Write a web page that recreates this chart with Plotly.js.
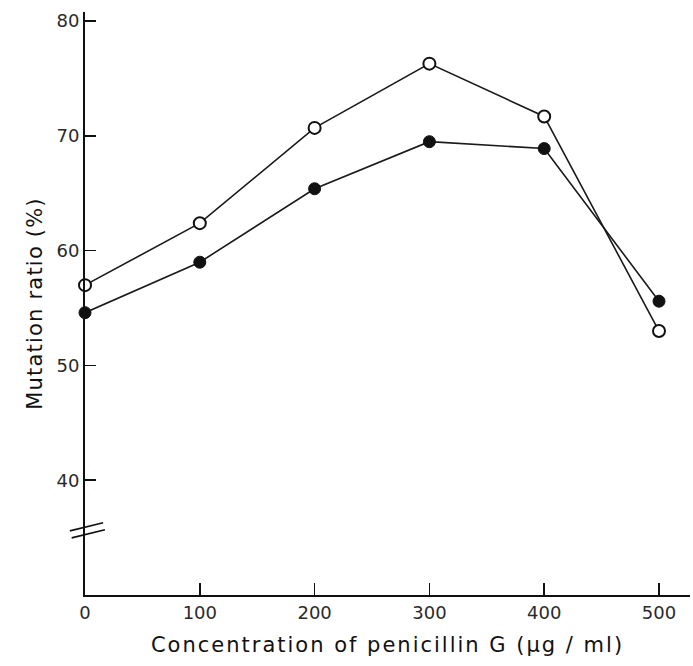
<!DOCTYPE html>
<html>
<head>
<meta charset="utf-8">
<script src="https://cdn.plot.ly/plotly-3.0.1.min.js"></script>
<style>
html,body{margin:0;padding:0;background:#fff;}
#chart{width:693px;height:666px;}
#chart text.xtitle {letter-spacing:2px !important;}
#chart text.ytitle {letter-spacing:1.2px !important;}
</style>
</head>
<body>
<div id="chart"></div>
<script>
const concentration = [0, 100, 200, 300, 400, 500];
const openSeries = [57.0, 62.4, 70.7, 76.3, 71.7, 53.0];
const filledSeries = [54.6, 59.0, 65.4, 69.5, 68.9, 55.6];
const xTickVals = [0, 100, 200, 300, 400, 500];
const xTickText = ['0', '100', '200', '300', '400', '500'];
const yTickVals = [40, 50, 60, 70, 80];
const yTickText = ['40', '50', '60', '70', '80'];

const lineColor = '#1a1a1a';
const traces = [
  {
    x: concentration, y: filledSeries, mode: 'lines+markers', type: 'scatter',
    line: {color: lineColor, width: 1.6},
    marker: {symbol: 'circle', size: 12, color: '#111', line: {color: '#111', width: 1}},
    cliponaxis: false, showlegend: false
  },
  {
    x: concentration, y: openSeries, mode: 'lines+markers', type: 'scatter',
    line: {color: lineColor, width: 1.6},
    marker: {symbol: 'circle', size: 12, color: '#fff', line: {color: '#111', width: 2}},
    cliponaxis: false, showlegend: false
  }
];

const tickFont = {size: 18, family: 'DejaVu Sans, sans-serif', color: '#2a2a2a'};
const titleFont = {size: 21, family: 'DejaVu Sans, sans-serif', color: '#111'};

const layout = {
  width: 693, height: 666,
  margin: {l: 85, r: 3, t: 12, b: 71},
  paper_bgcolor: '#fff', plot_bgcolor: '#fff',
  font: {family: 'DejaVu Sans, sans-serif', color: '#111'},
  xaxis: {
    range: [0, 527], tickvals: xTickVals, ticktext: xTickText,
    ticks: 'inside', ticklen: 12, tickwidth: 1.5, tickcolor: '#111',
    showline: true, linecolor: '#111', linewidth: 2,
    showgrid: false, zeroline: false,
    tickfont: tickFont,
    title: {text: 'Concentration of penicillin G (μg / ml)', font: titleFont, standoff: 16}
  },
  yaxis: {
    range: [30, 80.8], tickvals: yTickVals, ticktext: yTickText,
    ticks: 'inside', ticklen: 11, tickwidth: 1.5, tickcolor: '#111',
    showline: true, linecolor: '#111', linewidth: 2,
    showgrid: false, zeroline: false,
    tickfont: tickFont,
    title: {text: 'Mutation ratio (%)', font: titleFont, standoff: 8}
  },
  shapes: [
    {type: 'line', xref: 'paper', yref: 'paper', x0: -0.025, x1: 0.030, y0: 0.110, y1: 0.124, line: {color: '#111', width: 1.6}},
    {type: 'line', xref: 'paper', yref: 'paper', x0: -0.022, x1: 0.033, y0: 0.098, y1: 0.112, line: {color: '#111', width: 1.6}}
  ]
};

Plotly.newPlot('chart', traces, layout, {displayModeBar: false, staticPlot: true});
</script>
</body>
</html>
